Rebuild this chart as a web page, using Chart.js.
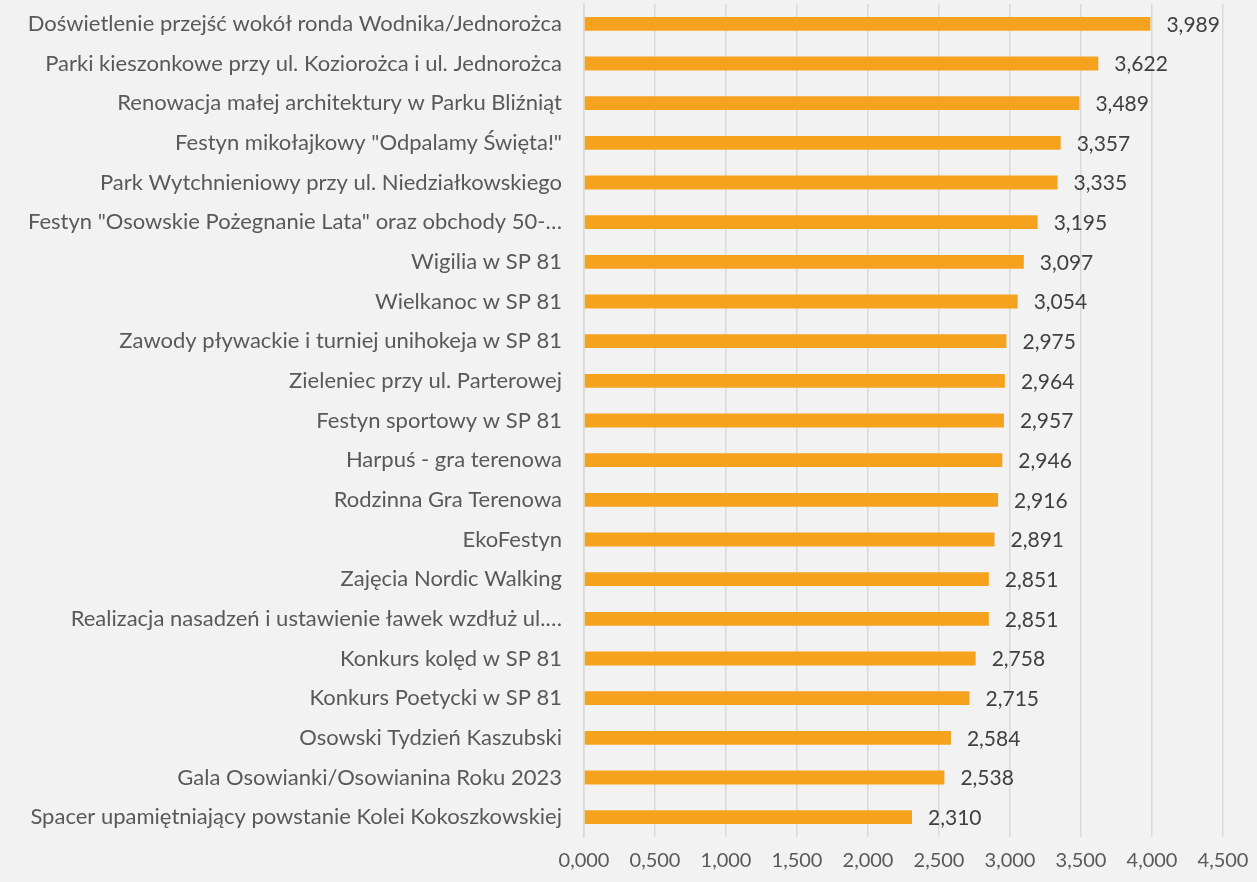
<!DOCTYPE html>
<html>
<head>
<meta charset="utf-8">
<script src="https://cdn.jsdelivr.net/npm/chart.js@4.4.1/dist/chart.umd.min.js"></script>
<style>
  html, body { margin: 0; padding: 0; background: #f2f2f2; }
  #wrap { width: 1257px; height: 882px; position: relative; }
</style>
</head>
<body>
<div id="wrap"><canvas id="chart"></canvas></div>
<script>
// data, top to bottom as in the picture
const categories = [
  'Doświetlenie przejść wokół ronda Wodnika/Jednorożca',
  'Parki kieszonkowe przy ul. Koziorożca i ul. Jednorożca',
  'Renowacja małej architektury w Parku Bliźniąt',
  'Festyn mikołajkowy "Odpalamy Święta!"',
  'Park Wytchnieniowy przy ul. Niedziałkowskiego',
  'Festyn "Osowskie Pożegnanie Lata" oraz obchody 50-…',
  'Wigilia w SP 81',
  'Wielkanoc w SP 81',
  'Zawody pływackie i turniej unihokeja w SP 81',
  'Zieleniec przy ul. Parterowej',
  'Festyn sportowy w SP 81',
  'Harpuś - gra terenowa',
  'Rodzinna Gra Terenowa',
  'EkoFestyn',
  'Zajęcia Nordic Walking',
  'Realizacja nasadzeń i ustawienie ławek wzdłuż ul.…',
  'Konkurs kolęd w SP 81',
  'Konkurs Poetycki w SP 81',
  'Osowski Tydzień Kaszubski',
  'Gala Osowianki/Osowianina Roku 2023',
  'Spacer upamiętniający powstanie Kolei Kokoszkowskiej'
];
const scores = [3.989, 3.622, 3.489, 3.357, 3.335, 3.195, 3.097, 3.054, 2.975, 2.964,
                2.957, 2.946, 2.916, 2.891, 2.851, 2.851, 2.758, 2.715, 2.584, 2.538, 2.310];
const axisMin = 0, axisMax = 4.5, axisStep = 0.5;

const fmt = v => v.toFixed(3).replace('.', ',');
const FONT = 'Lato, "Open Sans", sans-serif';

// value labels right of each bar
const valueLabels = {
  id: 'valueLabels',
  afterDatasetsDraw(chart) {
    const { ctx } = chart;
    const meta = chart.getDatasetMeta(0);
    ctx.save();
    ctx.font = '21px ' + FONT;
    ctx.fillStyle = '#404040';
    ctx.textAlign = 'left';
    ctx.textBaseline = 'middle';
    meta.data.forEach((bar, i) => {
      ctx.fillText(fmt(scores[i]), bar.x + 16, bar.y + 1);
    });
    ctx.restore();
  }
};

new Chart(document.getElementById('chart'), {
  type: 'bar',
  data: {
    labels: categories,
    datasets: [{
      data: scores,
      backgroundColor: '#f5a31f',
      borderWidth: 0,
      barPercentage: 0.7,
      categoryPercentage: 0.5
    }]
  },
  options: {
    indexAxis: 'y',
    responsive: true, maintainAspectRatio: false,
    animation: false,
    layout: { padding: { top: 4, right: 34, left: 0, bottom: 0 } },
    plugins: { legend: { display: false }, tooltip: { enabled: false } },
    scales: {
      x: {
        min: axisMin, max: axisMax,
        grid: { color: '#d9d9d9', lineWidth: 1.5, drawTicks: false },
        border: { display: false },
        ticks: {
          stepSize: axisStep, color: '#595959', padding: 12,
          font: { family: FONT, size: 20 },
          callback: v => fmt(v)
        },
        afterFit: s => { s.height = 45; s.paddingLeft = 0; s.paddingRight = 0; }
      },
      y: {
        grid: { display: false, drawTicks: false },
        border: { display: true, color: '#d9d9d9', width: 1.5 },
        ticks: { color: '#595959', padding: 22, font: { family: FONT, size: 22 } },
        afterFit: s => { s.width = 584; s.paddingTop = 0; s.paddingBottom = 0; }
      }
    }
  },
  plugins: [valueLabels]
});
</script>
</body>
</html>
